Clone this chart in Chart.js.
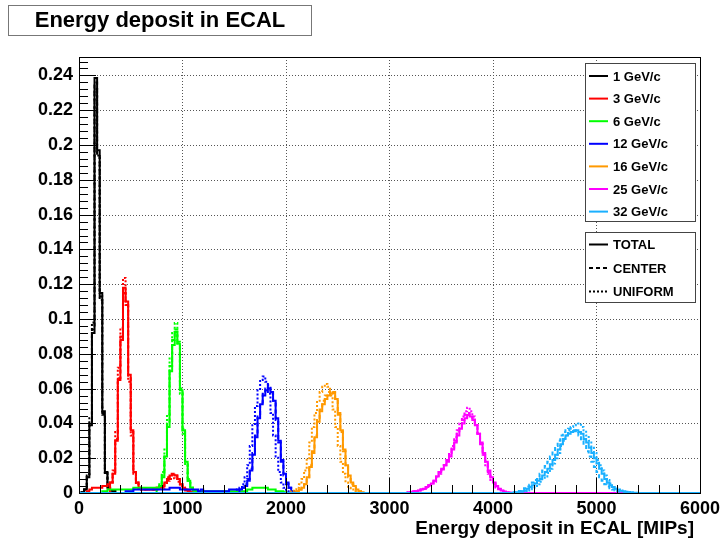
<!DOCTYPE html>
<html>
<head>
<meta charset="utf-8">
<title>Energy deposit in ECAL</title>
<script src="https://cdn.jsdelivr.net/npm/chart.js@4.4.0/dist/chart.umd.min.js"></script>
<style>
    html, body { margin: 0; padding: 0; background: #fff; }
    #wrap { position: relative; width: 725px; height: 541px; }
</style>
</head>
<body>
<div id="wrap"><canvas id="ecalChart"></canvas></div>
<script type="text/javascript">
    var binWidth = 25;
    var xTicks = [0, 1000, 2000, 3000, 4000, 5000, 6000];
    var yTicks = [0, 0.02, 0.04, 0.06, 0.08, 0.1, 0.12, 0.14, 0.16, 0.18, 0.2, 0.22, 0.24];
    var energyLabels = ['1 GeV/c', '3 GeV/c', '6 GeV/c', '12 GeV/c', '16 GeV/c', '25 GeV/c', '32 GeV/c'];
    var styleLabels = ['TOTAL', 'CENTER', 'UNIFORM'];

    // first bin edge of [total, center, uniform], then the bin contents
    var gev1Start = [25, 25, 25];
    var gev1Total = [0.0005, 0.002, 0.009, 0.039, 0.092, 0.2385, 0.197, 0.115, 0.047, 0.0115, 0.003, 0.0015, 0.001];
    var gev1Center = [0.0005, 0.002, 0.009, 0.040, 0.094, 0.236, 0.195, 0.113, 0.046, 0.012, 0.003, 0.0015, 0.001];
    var gev1Uniform = [0.0005, 0.002, 0.010, 0.043, 0.098, 0.232, 0.194, 0.111, 0.045, 0.011, 0.003, 0.0015, 0.001];

    var gev3Start = [75, 300, 300];
    var gev3Total = [0.001, 0.002, 0.003, 0.003, 0.003, 0.003, 0.004, 0.004, 0.005,
        0.006, 0.011, 0.030, 0.065, 0.088, 0.118, 0.110, 0.068, 0.036, 0.012, 0.006, 0.003,
        0.002, 0.002, 0.002, 0.002, 0.002, 0.002, 0.003, 0.003,
        0.004, 0.006, 0.008, 0.010, 0.0105, 0.010, 0.008, 0.005, 0.003, 0.002, 0.001, 0.0005];
    var gev3Center = [0.006, 0.012, 0.031, 0.066, 0.090, 0.115, 0.108, 0.066, 0.035, 0.012, 0.006, 0.003,
        0.002, 0.002, 0.002, 0.002, 0.002, 0.002, 0.003, 0.003,
        0.004, 0.006, 0.009, 0.011, 0.011, 0.010, 0.008, 0.005, 0.003, 0.002, 0.001, 0.0005];
    var gev3Uniform = [0.006, 0.013, 0.035, 0.072, 0.095, 0.1236, 0.108, 0.064, 0.033, 0.011, 0.005, 0.003,
        0.002, 0.002, 0.002, 0.002, 0.002, 0.002, 0.002, 0.003,
        0.003, 0.005, 0.007, 0.008, 0.0085, 0.008, 0.0065, 0.004, 0.0025, 0.0015, 0.001, 0.0005];

    var gev6Start = [225, 750, 750];
    var gev6Total = [0.001, 0.001, 0.002, 0.002, 0.002, 0.002, 0.002, 0.002, 0.002, 0.002, 0.002, 0.002,
        0.003, 0.003, 0.003, 0.003, 0.003, 0.003, 0.003, 0.003, 0.003,
        0.003, 0.004, 0.009, 0.021, 0.038, 0.070, 0.085, 0.0926, 0.086, 0.059, 0.036, 0.018, 0.007, 0.003, 0.0015, 0.001,
        0.001, 0.001, 0.001, 0.001, 0.001, 0.001, 0.001, 0.001, 0.001, 0.001, 0.001, 0.001, 0.001, 0.001, 0.001, 0.001, 0.001, 0.001,
        0.001, 0.002, 0.002, 0.003, 0.003, 0.003, 0.003, 0.003, 0.003, 0.002, 0.002, 0.002, 0.001, 0.001,
        0.001, 0.0005, 0.0003];
    var gev6Center = [0.003, 0.004, 0.010, 0.022, 0.040, 0.073, 0.088, 0.094, 0.087, 0.060, 0.037, 0.018, 0.008, 0.003, 0.0015, 0.001, 0.0005];
    var gev6Uniform = [0.003, 0.005, 0.012, 0.025, 0.045, 0.078, 0.092, 0.0977, 0.086, 0.057, 0.034, 0.016, 0.007, 0.003, 0.0015, 0.001, 0.0005];

    var gev12Start = [450, 1550, 1525];
    var gev12Total = [0.001, 0.001, 0.001, 0.002,
        0.002, 0.002, 0.002, 0.002, 0.002, 0.002, 0.002, 0.002, 0.002, 0.002, 0.002, 0.002, 0.002,
        0.003, 0.003, 0.003, 0.003, 0.002, 0.002, 0.002,
        0.002, 0.002, 0.002, 0.002, 0.001, 0.002, 0.001, 0.001, 0.001, 0.001, 0.001, 0.001, 0.001, 0.001, 0.001, 0.001, 0.002, 0.002, 0.002, 0.002,
        0.002, 0.003, 0.004, 0.007, 0.013, 0.022, 0.032, 0.043, 0.051, 0.056, 0.059, 0.060, 0.058, 0.053, 0.043, 0.030, 0.019, 0.011, 0.006, 0.003, 0.001, 0.0005];
    var gev12Center = [0.002, 0.003, 0.005, 0.008, 0.014, 0.023, 0.033, 0.044, 0.052, 0.057, 0.060, 0.062, 0.059, 0.053, 0.042, 0.029, 0.018, 0.010, 0.005, 0.003, 0.001, 0.0005];
    var gev12Uniform = [0.002, 0.003, 0.005, 0.009, 0.016, 0.027, 0.039, 0.050, 0.059, 0.065, 0.067, 0.064, 0.057, 0.046, 0.033, 0.021, 0.012, 0.006, 0.003, 0.001, 0.0005, 0.0003];

    var gev16Start = [2100, 2100, 2050];
    var gev16Total = [0.001, 0.002, 0.003, 0.005, 0.009, 0.015, 0.023, 0.032, 0.041, 0.047, 0.051, 0.054, 0.056, 0.057, 0.0575, 0.054, 0.046, 0.036, 0.025, 0.016, 0.010, 0.006, 0.004, 0.002, 0.001, 0.0005];
    var gev16Center = [0.001, 0.002, 0.003, 0.005, 0.009, 0.016, 0.024, 0.033, 0.042, 0.048, 0.053, 0.056, 0.058, 0.059, 0.058, 0.054, 0.045, 0.035, 0.024, 0.015, 0.009, 0.005, 0.003, 0.002, 0.001, 0.0005];
    var gev16Uniform = [0.001, 0.002, 0.003, 0.005, 0.008, 0.013, 0.020, 0.029, 0.038, 0.046, 0.053, 0.058, 0.061, 0.0627, 0.061, 0.056, 0.048, 0.038, 0.027, 0.018, 0.011, 0.006, 0.003, 0.002, 0.001, 0.0005];

    var gev25Start = [3175, 3175, 3175];
    var gev25Total = [0.0003, 0.0005, 0.001, 0.001, 0.0015, 0.002, 0.0025, 0.0035, 0.0045, 0.0055,
        0.007, 0.0095, 0.012, 0.0135, 0.016, 0.018, 0.021, 0.025, 0.029, 0.033,
        0.037, 0.040, 0.043, 0.0448, 0.044, 0.042, 0.039, 0.034, 0.029, 0.023,
        0.018, 0.013, 0.009, 0.006, 0.004, 0.0025, 0.0015, 0.0008, 0.0004, 0.0002];
    var gev25Center = [0.0003, 0.0005, 0.001, 0.001, 0.0015, 0.002, 0.0025, 0.0035, 0.0045, 0.0055,
        0.007, 0.0095, 0.012, 0.014, 0.016, 0.019, 0.022, 0.026, 0.030, 0.034,
        0.038, 0.042, 0.045, 0.046, 0.045, 0.043, 0.039, 0.034, 0.028, 0.022,
        0.017, 0.012, 0.008, 0.0055, 0.0035, 0.0022, 0.0013, 0.0007, 0.0003, 0.0002];
    var gev25Uniform = [0.0003, 0.0005, 0.0008, 0.001, 0.0013, 0.0018, 0.0023, 0.003, 0.004, 0.005,
        0.0065, 0.009, 0.011, 0.013, 0.016, 0.019, 0.023, 0.027, 0.032, 0.036,
        0.040, 0.044, 0.047, 0.049, 0.047, 0.044, 0.040, 0.034, 0.028, 0.022,
        0.016, 0.011, 0.0075, 0.005, 0.003, 0.002, 0.0012, 0.0006, 0.0003, 0.0002];

    var gev32Start = [4200, 4175, 4225];
    var gev32Total = [0.0003, 0.0005, 0.0007, 0.001, 0.0015, 0.0025, 0.0035, 0.0045, 0.0055, 0.007,
        0.008, 0.010, 0.012, 0.014, 0.0165, 0.019, 0.022, 0.025, 0.028, 0.031,
        0.033, 0.034, 0.035, 0.0355, 0.036, 0.035, 0.034, 0.031, 0.029, 0.026,
        0.023, 0.020, 0.017, 0.014, 0.011, 0.008, 0.006, 0.0045, 0.0035, 0.0025,
        0.0018, 0.0013, 0.001, 0.0007, 0.0005, 0.0003, 0.0002];
    var gev32Center = [0.0003, 0.0005, 0.0008, 0.0012, 0.0018, 0.0028, 0.0038, 0.0048, 0.006, 0.0075,
        0.009, 0.011, 0.013, 0.0155, 0.018, 0.021, 0.024, 0.027, 0.030, 0.033,
        0.035, 0.036, 0.037, 0.037, 0.036, 0.035, 0.033, 0.030, 0.027, 0.024,
        0.021, 0.018, 0.015, 0.012, 0.009, 0.007, 0.005, 0.0038, 0.0028, 0.002,
        0.0014, 0.001, 0.0007, 0.0005, 0.0003, 0.0002, 0.0001];
    var gev32Uniform = [0.0003, 0.0005, 0.0007, 0.001, 0.0015, 0.0022, 0.003, 0.004, 0.005, 0.0065,
        0.008, 0.0095, 0.0115, 0.014, 0.017, 0.020, 0.023, 0.027, 0.030, 0.033,
        0.036, 0.038, 0.039, 0.040, 0.040, 0.038, 0.036, 0.033, 0.030, 0.026,
        0.023, 0.019, 0.016, 0.013, 0.010, 0.0075, 0.0055, 0.004, 0.003, 0.002,
        0.0014, 0.001, 0.0007, 0.0005, 0.0003, 0.0002, 0.0001];

    var seriesTable = [
        [gev1Start, gev1Total, gev1Center, gev1Uniform],
        [gev3Start, gev3Total, gev3Center, gev3Uniform],
        [gev6Start, gev6Total, gev6Center, gev6Uniform],
        [gev12Start, gev12Total, gev12Center, gev12Uniform],
        [gev16Start, gev16Total, gev16Center, gev16Uniform],
        [gev25Start, gev25Total, gev25Center, gev25Uniform],
        [gev32Start, gev32Total, gev32Center, gev32Uniform]
    ];

    var energyColors = ['#000000', '#ff0000', '#00ff00', '#0000ff', '#ff9900', '#ff00ff', '#1ab0ff'];
    var styleDashes = [[], [4, 3], [2, 2]];
    var fontFamily = "'Liberation Sans', Arial, Helvetica, sans-serif";

    // histogram -> step line points (left bin edges), zero outside the filled range
    function histPoints(start, values) {
        var pts = [{ x: 0, y: 0 }];
        values.forEach(function (v, i) {
            pts.push({ x: start + i * binWidth, y: v });
        });
        pts.push({ x: start + values.length * binWidth, y: 0 });
        pts.push({ x: xTicks[xTicks.length - 1], y: 0 });
        return pts;
    }

    var datasets = [];
    seriesTable.forEach(function (row, e) {
        [row[1], row[2], row[3]].forEach(function (vals, s) {
            datasets.push({
                label: energyLabels[e] + ' ' + styleLabels[s],
                data: histPoints(row[0][s], vals),
                borderColor: energyColors[e],
                borderWidth: 2,
                borderDash: styleDashes[s],
                stepped: true,
                pointRadius: 0,
                fill: false,
                order: 100 - datasets.length
            });
        });
    });

    function strokeLine(ctx, x1, y1, x2, y2) {
        ctx.beginPath();
        ctx.moveTo(x1, y1);
        ctx.lineTo(x2, y2);
        ctx.stroke();
    }

    var rootFrame = {
        id: 'rootFrame',
        beforeDatasetsDraw: function (chart) {
            var ctx = chart.ctx, a = chart.chartArea;
            var xs = chart.scales.x, ys = chart.scales.y;
            ctx.save();
            ctx.strokeStyle = '#555';
            ctx.lineWidth = 1;
            ctx.setLineDash([1, 2]);
            xTicks.forEach(function (v) {
                if (v <= xs.min || v >= xs.max) return;
                var px = Math.round(xs.getPixelForValue(v)) + 0.5;
                strokeLine(ctx, px, a.top, px, a.bottom);
            });
            yTicks.forEach(function (v) {
                if (v <= ys.min) return;
                var py = Math.round(ys.getPixelForValue(v)) + 0.5;
                strokeLine(ctx, a.left, py, a.right, py);
            });
            ctx.restore();
        },
        afterDatasetsDraw: function (chart) {
            var ctx = chart.ctx, a = chart.chartArea;
            var xs = chart.scales.x, ys = chart.scales.y;
            ctx.save();
            ctx.strokeStyle = '#000';
            ctx.lineWidth = 1;
            // y axis ticks: 5 divisions per label step
            var ystep = yTicks[1] - yTicks[0];
            for (var k = 0; k * ystep / 5 <= ys.max + 1e-9; k++) {
                var yv = k * ystep / 5;
                var py = Math.round(ys.getPixelForValue(yv)) + 0.5;
                var len = (k % 5 === 0) ? 17 : 9;
                strokeLine(ctx, a.left, py, a.left + len, py);
            }
            var xstep = xTicks[1] - xTicks[0];
            for (var j = 0; j * xstep / 5 <= xs.max; j++) {
                var xv = j * xstep / 5;
                var px = Math.round(xs.getPixelForValue(xv)) + 0.5;
                var xl = (j % 5 === 0) ? 15 : 8;
                strokeLine(ctx, px, a.bottom, px, a.bottom - xl);
            }
            ctx.strokeRect(Math.round(a.left) + 0.5, Math.round(a.top) + 0.5,
                Math.round(a.right - a.left), Math.round(a.bottom - a.top));
            ctx.restore();
        },
        afterDraw: function (chart) {
            var ctx = chart.ctx;
            ctx.save();
            // title box
            ctx.fillStyle = '#fff';
            ctx.fillRect(8.5, 5.5, 303, 30);
            ctx.strokeStyle = '#777';
            ctx.lineWidth = 1;
            ctx.strokeRect(8.5, 5.5, 303, 30);
            ctx.fillStyle = '#000';
            ctx.font = 'bold 22px ' + fontFamily;
            ctx.textAlign = 'center';
            ctx.textBaseline = 'middle';
            ctx.fillText('Energy deposit in ECAL', 160, 21);

            // x axis title
            ctx.font = 'bold 19px ' + fontFamily;
            ctx.textAlign = 'right';
            ctx.textBaseline = 'alphabetic';
            ctx.fillText('Energy deposit in ECAL [MIPs]', 694, 534);

            // energy legend
            ctx.fillStyle = '#fff';
            ctx.fillRect(585.5, 63.5, 110, 158);
            ctx.strokeStyle = '#444';
            ctx.strokeRect(585.5, 63.5, 110, 158);
            ctx.font = 'bold 13px ' + fontFamily;
            ctx.textAlign = 'left';
            ctx.textBaseline = 'middle';
            energyLabels.forEach(function (lab, i) {
                var y = 76 + i * 22.6;
                ctx.strokeStyle = energyColors[i];
                ctx.lineWidth = 2;
                ctx.setLineDash([]);
                strokeLine(ctx, 589, y, 608, y);
                ctx.fillStyle = '#000';
                ctx.fillText(lab, 613, y + 1);
            });

            // style legend
            ctx.fillStyle = '#fff';
            ctx.fillRect(585.5, 232.5, 110, 70);
            ctx.strokeStyle = '#444';
            ctx.lineWidth = 1;
            ctx.strokeRect(585.5, 232.5, 110, 70);
            styleLabels.forEach(function (lab, i) {
                var y = 244.5 + i * 23.5;
                ctx.strokeStyle = '#000';
                ctx.lineWidth = 2;
                ctx.setLineDash(styleDashes[i]);
                strokeLine(ctx, 589, y, 608, y);
                ctx.setLineDash([]);
                ctx.fillStyle = '#000';
                ctx.fillText(lab, 613, y + 1);
            });
            ctx.restore();
        }
    };

    var ctx = document.getElementById('ecalChart').getContext('2d');
    var ecalChart = new Chart(ctx, {
        type: 'line',
        data: { datasets: datasets },
        options: {
            responsive: true,
            maintainAspectRatio: false,
            animation: false,
            events: [],
            layout: { padding: { left: 0, top: 57, right: 23, bottom: 0 } },
            plugins: {
                legend: { display: false },
                title: { display: false },
                tooltip: { enabled: false }
            },
            scales: {
                x: {
                    type: 'linear',
                    min: 0,
                    max: 6000,
                    grid: { display: false, drawTicks: false },
                    border: { display: false },
                    afterBuildTicks: function (scale) {
                        scale.ticks = xTicks.map(function (v) { return { value: v }; });
                    },
                    afterFit: function (scale) { scale.height = 48; },
                    ticks: {
                        autoSkip: false,
                        maxRotation: 0,
                        padding: 5,
                        color: '#000',
                        font: { family: fontFamily, size: 18, weight: 'bold' },
                        callback: function (v) { return String(v); }
                    }
                },
                y: {
                    type: 'linear',
                    min: 0,
                    max: 0.2506,
                    grid: { display: false, drawTicks: false },
                    border: { display: false },
                    afterBuildTicks: function (scale) {
                        scale.ticks = yTicks.map(function (v) { return { value: v }; });
                    },
                    afterFit: function (scale) { scale.width = 79; },
                    ticks: {
                        autoSkip: false,
                        padding: 6,
                        color: '#000',
                        font: { family: fontFamily, size: 18, weight: 'bold' },
                        callback: function (v) { return String(+v.toFixed(2)); }
                    }
                }
            }
        },
        plugins: [rootFrame]
    });
</script>
</body>
</html>
